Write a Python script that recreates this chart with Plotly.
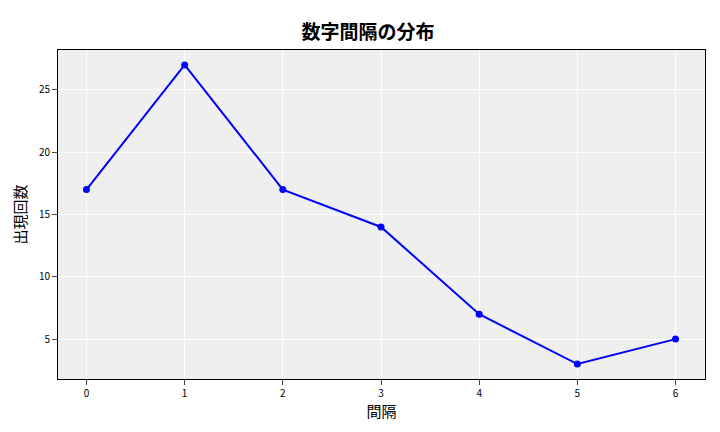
import plotly.graph_objects as go

intervals = [0, 1, 2, 3, 4, 5, 6]
counts = [17, 27, 17, 14, 7, 3, 5]

fig = go.Figure(go.Scatter(
    x=intervals, y=counts, mode="lines+markers",
    line=dict(color="blue", width=2), marker=dict(color="blue", size=7)))

font = "Noto Sans CJK JP"
fig.update_layout(
    width=720, height=432,
    margin=dict(l=47, r=23, t=42, b=61),
    paper_bgcolor="white", plot_bgcolor="#efefef",
    font=dict(family=font, color="black", size=10),
    title=dict(text="<b>数字間隔の分布</b>", x=0.5, xanchor="center", y=0.96,
               font=dict(size=19)),
    showlegend=False,
)
fig.update_xaxes(range=[-0.29, 6.3], tickvals=intervals, gridcolor="white",
                 showline=True, linecolor="black", mirror=True, ticks="outside",
                 title=dict(text="間隔", font=dict(size=15), standoff=6), zeroline=False)
fig.update_yaxes(range=[1.8, 28.2], tickvals=[5, 10, 15, 20, 25], gridcolor="white",
                 showline=True, linecolor="black", mirror=True, ticks="outside",
                 title=dict(text="出現回数", font=dict(size=15), standoff=8), zeroline=False)

fig.write_html("out.html")
